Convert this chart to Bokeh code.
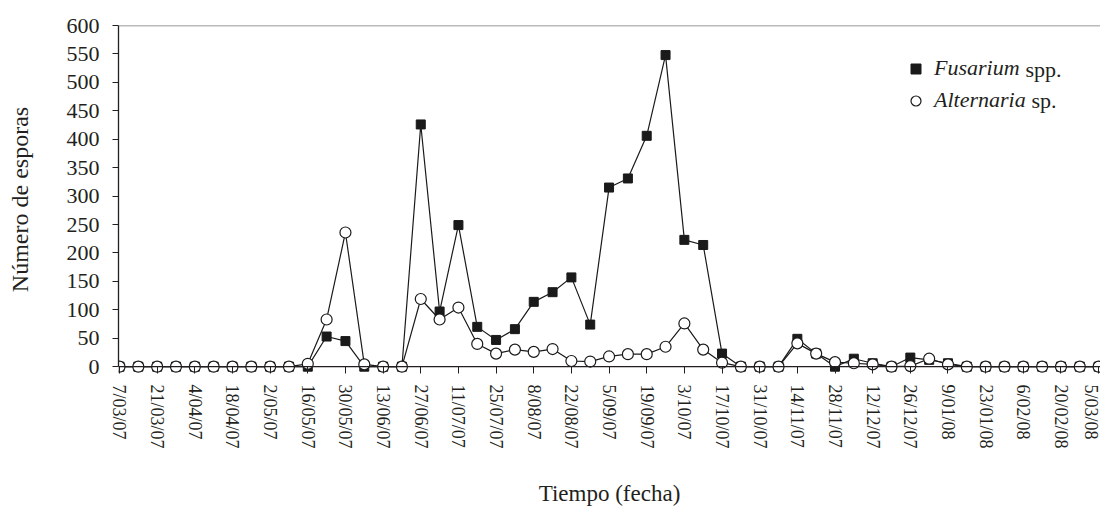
from bokeh.plotting import figure
from bokeh.models import (ColumnDataSource, FixedTicker, Span, Legend, LegendItem,
                          Label, Range1d)
from bokeh.embed import file_html
from bokeh.resources import INLINE

# ---------------- data ----------------
fechas = ["7/03/07", "14/03/07", "21/03/07", "28/03/07", "4/04/07", "11/04/07",
          "18/04/07", "25/04/07", "2/05/07", "9/05/07", "16/05/07", "23/05/07",
          "30/05/07", "6/06/07", "13/06/07", "20/06/07", "27/06/07", "4/07/07",
          "11/07/07", "18/07/07", "25/07/07", "1/08/07", "8/08/07", "15/08/07",
          "22/08/07", "29/08/07", "5/09/07", "12/09/07", "19/09/07", "26/09/07",
          "3/10/07", "10/10/07", "17/10/07", "24/10/07", "31/10/07", "7/11/07",
          "14/11/07", "21/11/07", "28/11/07", "5/12/07", "12/12/07", "19/12/07",
          "26/12/07", "2/01/08", "9/01/08", "16/01/08", "23/01/08", "30/01/08",
          "6/02/08", "13/02/08", "20/02/08", "27/02/08", "5/03/08"]

fusarium = [0, 0, 0, 0, 0, 0, 0, 0, 0, 0,
            0, 53, 45, 0, 0, 0, 426, 97, 249, 70,
            47, 66, 114, 131, 157, 74, 315, 331, 406, 548,
            223, 214, 23, 0, 0, 0, 49, 23, 0, 14,
            6, 0, 16, 12, 6, 0, 0, 0, 0, 0,
            0, 0, 0]

alternaria = [0, 0, 0, 0, 0, 0, 0, 0, 0, 0,
              5, 83, 236, 4, 0, 0, 119, 83, 104, 40,
              23, 30, 26, 31, 10, 9, 18, 22, 22, 35,
              76, 30, 7, 0, 0, 0, 41, 23, 8, 6,
              4, 0, 1, 14, 4, 0, 0, 0, 0, 0,
              0, 0, 0]

y_ticks = list(range(0, 601, 50))

# ---------------- figure ----------------
idx = list(range(len(fechas)))
src = ColumnDataSource(dict(x=idx, fecha=fechas, fus=fusarium, alt=alternaria))

FONT = "Liberation Serif"
TXT = "#231f20"

p = figure(width=1100, height=508, output_backend="svg", toolbar_location=None,
           x_range=Range1d(-0.053, 52.10), y_range=Range1d(-12, 600),
           min_border_left=118, min_border_right=0, min_border_top=25,
           min_border_bottom=127, background_fill_color="white",
           border_fill_color="white")
p.outline_line_color = None
p.grid.grid_line_color = None

# y axis
p.yaxis.ticker = FixedTicker(ticks=y_ticks)
p.yaxis.bounds = (0, 600)
p.yaxis.major_tick_out = 6
p.yaxis.major_tick_in = 0
p.yaxis.minor_tick_line_color = None
p.yaxis.axis_line_color = "#231f20"
p.yaxis.axis_line_width = 1.3
p.yaxis.major_tick_line_color = "#231f20"
p.yaxis.major_label_text_font = FONT
p.yaxis.major_label_text_font_size = "22px"
p.yaxis.major_label_text_color = TXT
p.yaxis.major_label_standoff = 13
p.yaxis.axis_label = "Número de esporas"
p.yaxis.axis_label_text_font = FONT
p.yaxis.axis_label_text_font_size = "24px"
p.yaxis.axis_label_text_font_style = "normal"
p.yaxis.axis_label_text_color = TXT
p.yaxis.axis_label_standoff = 31

# x axis
p.xaxis.ticker = FixedTicker(ticks=idx[::2])
p.xaxis.major_label_overrides = {i: fechas[i] for i in idx[::2]}
p.xaxis.major_label_orientation = "vertical"
p.xaxis.axis_line_color = None
p.xaxis.major_tick_in = 7
p.xaxis.major_tick_out = 0
p.xaxis.major_tick_line_color = "#231f20"
p.xaxis.minor_tick_line_color = None
p.xaxis.major_label_text_font = FONT
p.xaxis.major_label_text_font_size = "18px"
p.xaxis.major_label_text_color = TXT
p.xaxis.major_label_standoff = 11
p.xaxis.axis_label = "Tiempo (fecha)"
p.xaxis.axis_label_text_font = FONT
p.xaxis.axis_label_text_font_size = "23px"
p.xaxis.axis_label_text_font_style = "normal"
p.xaxis.axis_label_text_color = TXT
p.xaxis.axis_label_standoff = 29

# axis line at zero and grey top border
p.add_layout(Span(location=0, dimension="width", line_color="#231f20", line_width=1.3))
p.add_layout(Span(location=600, dimension="width", line_color="#777777", line_width=1.5))

# series
p.line("x", "fus", source=src, line_color="#1a1a1a", line_width=1.2)
p.line("x", "alt", source=src, line_color="#1a1a1a", line_width=1.2)
sq = p.scatter("x", "fus", source=src, marker="square", size=9,
               fill_color="#1a1a1a", line_color="#1a1a1a")
ci = p.scatter("x", "alt", source=src, marker="circle", size=11,
               fill_color="white", line_color="#1a1a1a", line_width=1.2)

# legend (genus names in italics, the rest upright)
leg = Legend(items=[LegendItem(label="Fusarium", renderers=[sq]),
                    LegendItem(label="Alternaria", renderers=[ci])],
             location=(785, 260), orientation="vertical",
             glyph_width=25, glyph_height=25, label_height=25,
             spacing=6, padding=0, margin=0, label_standoff=6,
             border_line_color=None, background_fill_alpha=0,
             label_text_font=FONT, label_text_font_size="22px",
             label_text_font_style="italic", label_text_color=TXT)
p.add_layout(leg)
p.add_layout(Label(x=907, y=304, x_units="screen", y_units="screen", text="spp.",
                   text_font=FONT, text_font_size="22px", text_color=TXT,
                   text_baseline="middle", text_align="left"))
p.add_layout(Label(x=913, y=273, x_units="screen", y_units="screen", text="sp.",
                   text_font=FONT, text_font_size="22px", text_color=TXT,
                   text_baseline="middle", text_align="left"))

open("out.html", "w").write(file_html(p, INLINE))
